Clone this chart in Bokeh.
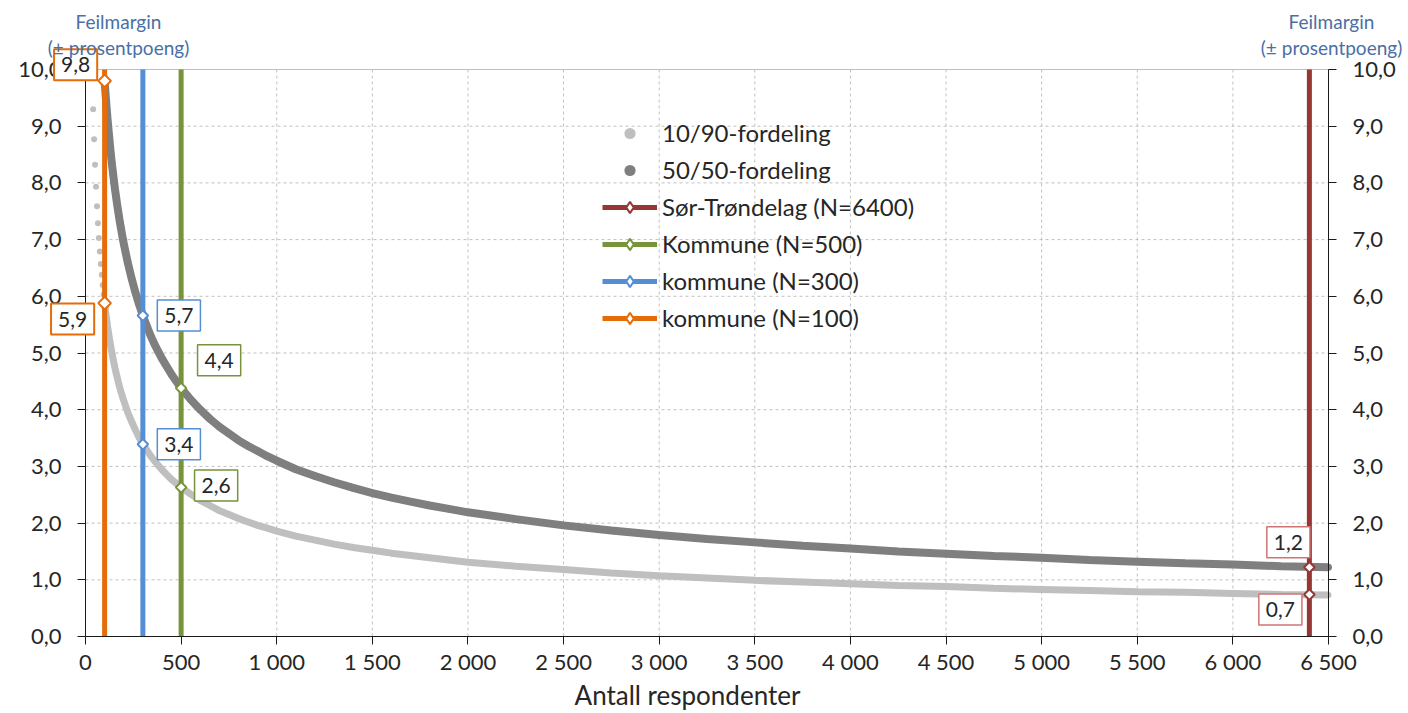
import math
from bokeh.plotting import figure
from bokeh.models import Range1d, LinearAxis, FixedTicker, Label, Legend, LegendItem, ColumnDataSource
from bokeh.embed import file_html
from bokeh.resources import INLINE

# ---------------- data ----------------
n_resp = [40, 45, 50, 55, 60, 65, 70, 75, 80, 85, 90, 95, 100, 105, 110, 115, 120, 125, 130, 135,
          140, 145, 150, 155, 160, 165, 170, 175, 180, 185, 190, 195, 200, 220, 240, 260, 280, 300,
          320, 340, 360, 380, 400, 450, 500, 550, 600, 650, 700, 750, 800, 850, 900, 950, 1000,
          1100, 1200, 1300, 1400, 1500, 1600, 1700, 1800, 1900, 2000, 2250, 2500, 2750, 3000,
          3250, 3500, 3750, 4000, 4250, 4500, 4750, 5000, 5250, 5500, 5750, 6000, 6250, 6500]
moe_10_90 = [9.30, 8.77, 8.32, 7.93, 7.59, 7.29, 7.03, 6.79, 6.57, 6.38, 6.20, 6.03, 5.88, 5.74,
             5.61, 5.48, 5.37, 5.26, 5.16, 5.06, 4.97, 4.88, 4.80, 4.72, 4.65, 4.58, 4.51, 4.44,
             4.38, 4.32, 4.27, 4.21, 4.16, 3.96, 3.80, 3.65, 3.51, 3.39, 3.29, 3.19, 3.10, 3.02,
             2.94, 2.77, 2.63, 2.51, 2.40, 2.31, 2.22, 2.15, 2.08, 2.02, 1.96, 1.91, 1.86, 1.77,
             1.70, 1.63, 1.57, 1.52, 1.47, 1.43, 1.39, 1.35, 1.31, 1.24, 1.18, 1.12, 1.07, 1.03,
             0.99, 0.96, 0.93, 0.90, 0.88, 0.85, 0.83, 0.81, 0.79, 0.78, 0.76, 0.74, 0.73]
moe_50_50 = [15.50, 14.61, 13.86, 13.21, 12.65, 12.16, 11.71, 11.32, 10.96, 10.63, 10.33, 10.05,
             9.80, 9.56, 9.34, 9.14, 8.95, 8.77, 8.59, 8.43, 8.28, 8.14, 8.00, 7.87, 7.75, 7.63,
             7.52, 7.41, 7.30, 7.21, 7.11, 7.02, 6.93, 6.61, 6.33, 6.08, 5.86, 5.66, 5.48, 5.31,
             5.16, 5.03, 4.90, 4.62, 4.38, 4.18, 4.00, 3.84, 3.70, 3.58, 3.46, 3.36, 3.27, 3.18,
             3.10, 2.95, 2.83, 2.72, 2.62, 2.53, 2.45, 2.38, 2.31, 2.25, 2.19, 2.07, 1.96, 1.87,
             1.79, 1.72, 1.66, 1.60, 1.55, 1.50, 1.46, 1.42, 1.39, 1.35, 1.32, 1.29, 1.27, 1.24, 1.22]

group_names = ["Sør-Trøndelag (N=6400)", "Kommune (N=500)", "kommune (N=300)", "kommune (N=100)"]
group_n = [6400, 500, 300, 100]
group_moe_50_50 = [1.22, 4.38, 5.66, 9.80]
group_moe_10_90 = [0.74, 2.63, 3.39, 5.88]

x_ticks = [0, 500, 1000, 1500, 2000, 2500, 3000, 3500, 4000, 4500, 5000, 5500, 6000, 6500]
x_tick_labels = ["0", "500", "1 000", "1 500", "2 000", "2 500", "3 000", "3 500", "4 000",
                 "4 500", "5 000", "5 500", "6 000", "6 500"]
y_ticks = [0, 1, 2, 3, 4, 5, 6, 7, 8, 9, 10]
y_tick_labels = ["0,0", "1,0", "2,0", "3,0", "4,0", "5,0", "6,0", "7,0", "8,0", "9,0", "10,0"]

x_title = "Antall respondenter"
y_title = ["Feilmargin", "(± prosentpoeng)"]

# ---------------- layout / styles ----------------
W, H = 1408, 713
PX_L, PX_R, PX_T, PX_B = 85, 1328, 69, 636      # plot area in pixels
X_MIN, X_MAX = 0, 6500
Y_MIN, Y_MAX = 0, 10
XU = (X_MAX - X_MIN) / (PX_R - PX_L)            # data units per pixel
YU = (Y_MAX - Y_MIN) / (PX_B - PX_T)


def dx(px):
    return X_MIN + (px - PX_L) * XU


def dy(py):
    return Y_MIN + (PX_B - py) * YU


FONT = "Lato"
TXT = "#262626"
group_colors = ["#953735", "#77933C", "#558ED5", "#E46C0A"]
group_box_colors = ["#D07575", "#77933C", "#558ED5", "#E46C0A"]
group_marker_sizes = [7.5, 7.5, 7.5, 9]
off_50 = [(-21, 25), (38, 28), (36, 0), (-29, 16)]
off_10 = [(-29, -15), (35, 2), (36, 0), (-32, -16)]

p = figure(width=W, height=H, output_backend="svg", toolbar_location=None,
           x_range=Range1d(dx(0), dx(W)), y_range=Range1d(dy(H), dy(0)),
           x_axis_location=None, y_axis_location=None,
           min_border=0, min_border_left=0, min_border_right=0, min_border_top=0,
           min_border_bottom=0)
p.background_fill_color = "white"
p.border_fill_color = "white"
p.outline_line_color = None
p.xgrid.visible = False
p.ygrid.visible = False

# grid lines (dashed) and top border of the plot area
gx = [t for t in x_ticks]
p.segment(x0=gx, y0=[Y_MIN] * len(gx), x1=gx, y1=[Y_MAX] * len(gx),
          line_color="#C0C0C0", line_width=1, line_dash="3 3")
gy = [t for t in y_ticks if t < Y_MAX]
p.segment(x0=[X_MIN] * len(gy), y0=gy, x1=[X_MAX] * len(gy), y1=gy,
          line_color="#C0C0C0", line_width=1, line_dash="3 3")
p.segment(x0=[X_MIN], y0=[Y_MAX], x1=[X_MAX], y1=[Y_MAX], line_color="#BFBFBF", line_width=1)

# axes drawn at fixed data locations
xa = LinearAxis(ticker=FixedTicker(ticks=x_ticks), fixed_location=Y_MIN, bounds=(X_MIN, X_MAX),
                major_label_overrides={t: l for t, l in zip(x_ticks, x_tick_labels)})
p.add_layout(xa, "below")
ya_l = LinearAxis(ticker=FixedTicker(ticks=y_ticks), fixed_location=X_MIN, bounds=(Y_MIN, Y_MAX),
                  major_label_overrides={t: l for t, l in zip(y_ticks, y_tick_labels)})
p.add_layout(ya_l, "left")
ya_r = LinearAxis(ticker=FixedTicker(ticks=y_ticks), fixed_location=X_MAX, bounds=(Y_MIN, Y_MAX),
                  major_label_overrides={t: l for t, l in zip(y_ticks, y_tick_labels)})
p.add_layout(ya_r, "right")

for ax in (xa, ya_l, ya_r):
    ax.axis_line_color = "#1a1a1a"
    ax.axis_line_width = 1
    ax.major_tick_line_color = "#1a1a1a"
    ax.major_tick_out = 8
    ax.major_tick_in = 0
    ax.minor_tick_line_color = None
    ax.major_label_text_font = FONT
    ax.major_label_text_font_size = "22px"
    ax.major_label_text_color = TXT
xa.major_label_standoff = 3
ya_l.major_label_standoff = 16
ya_r.major_label_standoff = 16

# curves (only the part inside the value axis range is drawn)
pts_10 = [(n, v) for n, v in zip(n_resp, moe_10_90) if v <= Y_MAX]
pts_50 = [(n, v) for n, v in zip(n_resp, moe_50_50) if v <= Y_MAX]
src_10 = ColumnDataSource(dict(n=[a for a, _ in pts_10], v=[b for _, b in pts_10]))
src_50 = ColumnDataSource(dict(n=[a for a, _ in pts_50], v=[b for _, b in pts_50]))
dense_10 = ColumnDataSource(dict(n=[a for a, _ in pts_10 if a >= 100],
                                 v=[b for a, b in pts_10 if a >= 100]))

p.line("n", "v", source=dense_10, line_color="#BFBFBF", line_width=7)
r_10 = p.scatter("n", "v", source=src_10, size=6, fill_color="#BFBFBF", line_color=None)
p.line("n", "v", source=src_50, line_color="#7F7F7F", line_width=8)
r_50 = p.scatter("n", "v", source=src_50, size=7, fill_color="#7F7F7F", line_color=None)

items = [LegendItem(label="10/90-fordeling", renderers=[r_10]),
         LegendItem(label="50/50-fordeling", renderers=[r_50])]

for name, n, v50, v10, col, bcol, ms, o50, o10 in zip(group_names, group_n, group_moe_50_50,
                                                      group_moe_10_90, group_colors,
                                                      group_box_colors, group_marker_sizes,
                                                      off_50, off_10):
    seg = p.segment(x0=[n], y0=[Y_MIN], x1=[n], y1=[Y_MAX], line_color=col, line_width=5)
    # legend key (diamond); on the plot it is covered by the rotated square below
    key = p.scatter(x=[n, n], y=[v50, v10], marker="diamond", size=0, fill_color="white",
                    line_color=col, line_width=2)
    p.scatter(x=[n, n], y=[v50, v10], marker="square", angle=math.pi / 4, size=ms,
              fill_color="white", line_color=col, line_width=2)
    items.append(LegendItem(label=name, renderers=[seg, key]))
    for v, (ox, oy) in ((v50, o50), (v10, o10)):
        p.add_layout(Label(x=n, y=v, x_offset=ox, y_offset=oy,
                           text=f"{v:.1f}".replace(".", ","), text_font=FONT,
                           text_font_size="21px", text_color=TXT, text_align="center",
                           text_baseline="middle", background_fill_color="white",
                           border_line_color=bcol, border_line_width=2 if n == 100 else 1.5,
                           padding=(7, 8)))

legend = Legend(items=items, location=(602, H - 332), orientation="vertical",
                background_fill_alpha=0, border_line_color=None, padding=0, margin=0,
                spacing=8, glyph_width=55, glyph_height=28, label_height=28,
                label_standoff=5, label_text_font=FONT, label_text_font_size="24px",
                label_text_color=TXT)
p.add_layout(legend, "center")

# axis titles
p.add_layout(Label(x=dx(687), y=dy(694), text=x_title, text_font=FONT, text_font_size="26px",
                   text_color=TXT, text_align="center", text_baseline="middle"))
for xc in (dx(118), dx(1331)):
    for yc, t in ((dy(21), y_title[0]), (dy(47), y_title[1])):
        p.add_layout(Label(x=xc, y=yc, text=t, text_font=FONT, text_font_size="19px",
                           text_color="#4A6FA5", text_align="center", text_baseline="middle"))

open("out.html", "w").write(file_html(p, INLINE))
